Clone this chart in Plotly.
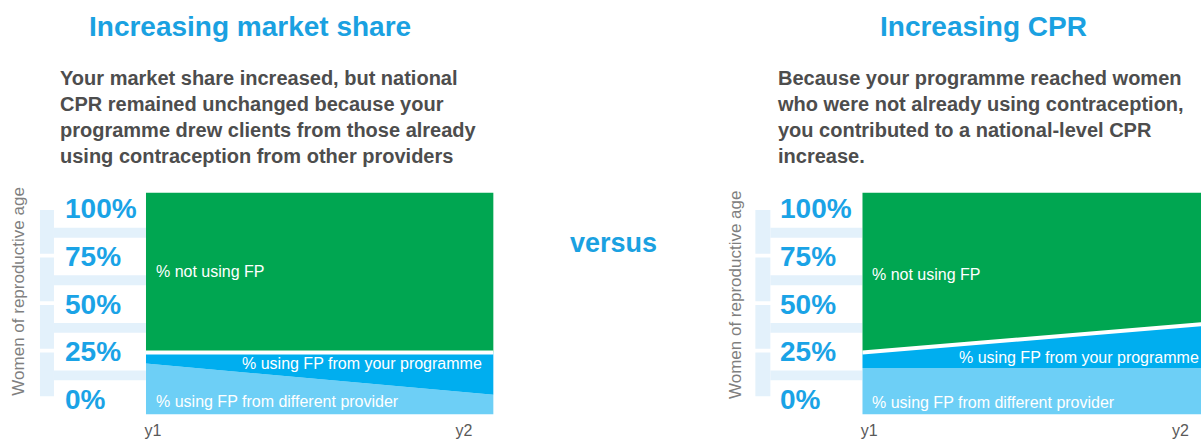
import plotly.graph_objects as go

# ---------------- data ----------------
periods = ["y1", "y2"]
period_x = [0, 1]
period_label_x = [0.02, 0.915]

left_other = [23, 9]      # % using FP from different provider
left_prog = [5, 19]       # % using FP from your programme
left_not = [72, 72]       # % not using FP

right_other = [21, 21]
right_prog = [7, 20]
right_not = [72, 59]

tick_vals = [0, 25, 50, 75, 100]
tick_text = ["0%", "25%", "50%", "75%", "100%"]

series_names = ["% using FP from different provider",
                "% using FP from your programme",
                "% not using FP"]

titles = ["Increasing market share", "Increasing CPR"]
subtitles = [
    "Your market share increased, but national<br>CPR remained unchanged because your<br>"
    "programme drew clients from those already<br>using contraception from other providers",
    "Because your programme reached women<br>who were not already using contraception,<br>"
    "you contributed to a national-level CPR<br>increase.",
]

# ---------------- styles ----------------
W, H = 1201, 439
FONT = "Liberation Sans, Arial, sans-serif"
C_LIGHT = "#6dcff6"
C_DARK = "#00aeef"
C_GREEN = "#00a651"
C_TITLE = "#1aa1e1"
C_TICK = "#1aa3e6"
C_BAND = "#e3f1fb"
C_SUB = "#4d4d4d"
C_GREY = "#7f7f7f"

def px(x):
    return x / W

def py(y):
    return (H - y) / H

fig = go.Figure()

panels = [
    dict(xa="x", ya="y", other=left_other, prog=left_prog, notu=left_not),
    dict(xa="x2", ya="y2", other=right_other, prog=right_prog, notu=right_not),
]

for p in panels:
    total = [a + b for a, b in zip(p["other"], p["prog"])]
    for name, vals, col in zip(series_names,
                               [p["other"], p["prog"], p["notu"]],
                               [C_LIGHT, C_DARK, C_GREEN]):
        fig.add_trace(go.Scatter(
            x=period_x, y=vals, xaxis=p["xa"], yaxis=p["ya"],
            stackgroup=p["xa"], mode="lines", line=dict(width=0, color=col),
            fillcolor=col, name=name, showlegend=False, hoverinfo="skip"))
    # white separator at the top of FP users
    fig.add_trace(go.Scatter(
        x=period_x, y=total, xaxis=p["xa"], yaxis=p["ya"], mode="lines",
        line=dict(color="white", width=4), showlegend=False, hoverinfo="skip"))

# domains
ydom = [py(416.5), py(193.5)]
left_dom = [px(145), px(493)]
right_dom = [px(862), 1.0]
right_range_end = (W - 862) / (493 - 145)

axis_common = dict(showgrid=False, zeroline=False, showline=False, ticks="",
                   fixedrange=True)
fig.update_layout(
    width=W, height=H, margin=dict(l=0, r=0, t=0, b=0),
    paper_bgcolor="white", plot_bgcolor="white",
    font=dict(family=FONT),
    xaxis=dict(domain=left_dom, range=[0, 1], anchor="y",
               tickvals=period_label_x, ticktext=periods, ticklabelstandoff=4,
               tickfont=dict(size=16, color="#595959"), **axis_common),
    yaxis=dict(domain=ydom, range=[0, 100], anchor="x", showticklabels=False,
               **axis_common),
    xaxis2=dict(domain=right_dom, range=[0, right_range_end], anchor="y2",
                tickvals=period_label_x, ticktext=periods, ticklabelstandoff=4,
                tickfont=dict(size=16, color="#595959"), **axis_common),
    yaxis2=dict(domain=ydom, range=[0, 100], anchor="x2", showticklabels=False,
                **axis_common),
    # scales for decorative percentage labels
    yaxis3=dict(domain=ydom, range=[-8.1, 108.6], overlaying="y", anchor="x",
                visible=False),
    yaxis4=dict(domain=ydom, range=[-8.1, 108.6], overlaying="y2", anchor="x2",
                visible=False),
)

ann = []
shapes = []

# titles / subtitles
for i, (t, s) in enumerate(zip(titles, subtitles)):
    cx = [249, 983][i]
    sx = [57, 775][i]
    ann.append(dict(text=f"<b>{t}</b>", x=px(cx), y=py(27), xref="paper", yref="paper",
                    xanchor="center", yanchor="middle", showarrow=False,
                    font=dict(size=28, color=C_TITLE, family=FONT)))
    ann.append(dict(text=f"<b>{s}</b>", x=px(sx), y=py(118), xref="paper", yref="paper",
                    xanchor="left", yanchor="middle", align="left", showarrow=False,
                    font=dict(size=20, color=C_SUB, family=FONT)))

ann.append(dict(text="<b>versus</b>", x=px(613), y=py(244), xref="paper", yref="paper",
                xanchor="center", yanchor="middle", showarrow=False,
                font=dict(size=27, color=C_TITLE, family=FONT)))

# y axis titles, percentage labels, decorative bands
for i, yr in enumerate(["y3", "y4"]):
    tx = [18, 735][i]
    ty = [292, 296][i]
    lx = [62, 778][i]
    vb = [(39, 53), (755, 770)][i]
    hb_end = [145, 862][i]
    ann.append(dict(text="Women of reproductive age", x=px(tx), y=py(ty),
                    xref="paper", yref="paper", textangle=-90, showarrow=False,
                    xanchor="center", yanchor="middle",
                    font=dict(size=17, color=C_GREY, family=FONT)))
    for v, t in zip(tick_vals, tick_text):
        ann.append(dict(text=f"<b>{t}</b>", x=px(lx), y=v, xref="paper", yref=yr,
                        xanchor="left", yanchor="middle", showarrow=False,
                        font=dict(size=28, color=C_TICK, family=FONT)))
    for lo, hi in zip(tick_vals[:-1], tick_vals[1:]):
        mid = (lo + hi) / 2
        shapes.append(dict(type="rect", xref="paper", yref=yr, x0=px(vb[0]), x1=px(vb[1]),
                           y0=lo + 1.5, y1=hi - 0.5, fillcolor=C_BAND, line=dict(width=0),
                           layer="below"))
        shapes.append(dict(type="rect", xref="paper", yref=yr, x0=px(vb[1]), x1=px(hb_end),
                           y0=mid - 2.6, y1=mid + 2.6, fillcolor=C_BAND, line=dict(width=0),
                           layer="below"))

# area labels
lab_font = dict(size=16, color="white", family=FONT)
# left panel
ann.append(dict(text=series_names[2], x=0.023, y=64.3, xref="x", yref="y",
                xanchor="left", yanchor="middle", showarrow=False, font=lab_font))
ann.append(dict(text=series_names[1], x=0.971, y=23.1, xref="x", yref="y",
                xanchor="right", yanchor="middle", showarrow=False, font=lab_font))
ann.append(dict(text=series_names[0], x=0.023, y=6.0, xref="x", yref="y",
                xanchor="left", yanchor="middle", showarrow=False, font=lab_font))
# right panel
ann.append(dict(text=series_names[2], x=0.023, y=63.2, xref="x2", yref="y2",
                xanchor="left", yanchor="middle", showarrow=False, font=lab_font))
ann.append(dict(text=series_names[1], x=0.273, y=25.6, xref="x2", yref="y2",
                xanchor="left", yanchor="middle", showarrow=False, font=lab_font))
ann.append(dict(text=series_names[0], x=0.023, y=5.4, xref="x2", yref="y2",
                xanchor="left", yanchor="middle", showarrow=False, font=lab_font))

fig.update_layout(annotations=ann, shapes=shapes)

fig.write_html("out.html", config={"displayModeBar": False},
               post_script="document.body.style.margin='0';document.body.style.overflow='hidden';")
